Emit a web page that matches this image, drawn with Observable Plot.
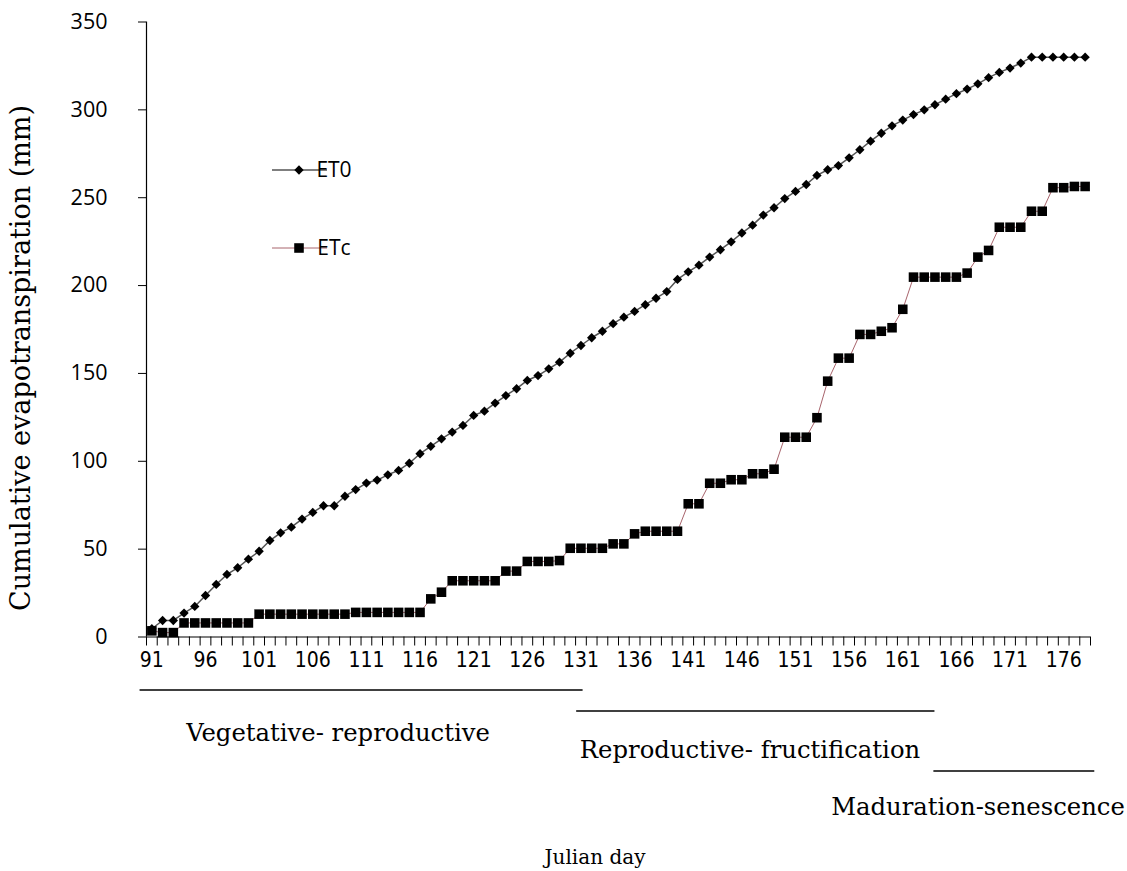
<!DOCTYPE html>
<html><head><meta charset="utf-8">
<script src="https://cdn.jsdelivr.net/npm/d3@7"></script>
<script src="https://cdn.jsdelivr.net/npm/@observablehq/plot@0.6"></script>
<style>
html,body{margin:0;padding:0;background:#fff;}
</style>
</head><body>
<div id="chart"></div>
<script>
// Julian days (categories)
const days = [91,92,93,94,95,96,97,98,99,100,101,102,103,104,105,106,107,108,109,110,
  111,112,113,114,115,116,117,118,119,120,121,122,123,124,125,126,127,128,129,130,
  131,132,133,134,135,136,137,138,139,140,141,142,143,144,145,146,147,148,149,150,
  151,152,153,154,155,156,157,158,159,160,161,162,163,164,165,166,167,168,169,170,
  171,172,173,174,175,176,177,178];

// Cumulative reference evapotranspiration ET0 (mm)
const et0 = [4.7,9.4,9.4,13.6,17.4,23.6,29.9,35.6,39.4,44.3,48.8,54.9,59.3,62.5,67.1,70.9,74.7,74.7,80.1,83.9,
  87.6,89.3,92.3,94.8,98.9,104.3,108.5,112.8,116.6,120.4,126.1,128.5,133.1,137.4,141.3,146,148.8,152.6,156.4,161.5,
  165.9,170.3,174,178.3,182,185.3,189.1,192.8,196.6,203.5,207.8,211.6,216.2,220.4,224.9,229.9,234.4,240.1,244.3,249.5,
  253.6,257.5,262.7,265.9,268.3,272.7,277.3,282.2,286.7,290.9,294.2,297.3,300,302.9,306.1,309.2,311.8,314.8,318.3,321.3,
  323.8,326.6,330,330,330,330,330,330];

// Cumulative crop evapotranspiration ETc (mm)
const etc = [3.5,2.5,2.5,8,8,8,8,8,8,8,13,13,13,13,13,13,13,13,13,14,
  14,14,14,14,14,14,21.7,25.5,32,32,32,32,32,37.5,37.5,43,43,43,43.5,50.5,
  50.5,50.5,50.5,53,53,58.7,60.2,60.2,60.2,60.2,75.8,75.8,87.5,87.5,89.5,89.5,92.9,92.9,95.5,113.7,
  113.7,113.7,124.8,145.6,158.7,158.7,172.2,172.2,174,176,186.5,204.8,204.8,204.8,204.8,204.8,207.1,216.2,220,233.2,
  233.2,233.2,242.3,242.3,255.7,255.7,256.4,256.4];

const xTickLabels = [91,96,101,106,111,116,121,126,131,136,141,146,151,156,161,166,171,176];
const yTickValues = [0,50,100,150,200,250,300,350];
const seriesNames = ["ET0","ETc"];
const phaseNames = ["Vegetative- reproductive","Reproductive- fructification","Maduration-senescence"];
const phaseStart = [89.9,130.6,163.9];
const phaseEnd = [131.2,164.0,178.9];
const yLabel = "Cumulative evapotranspiration (mm)";
const xLabel = "Julian day";

const rows = days.map((d,i)=>({day:d, et0:et0[i], etc:etc[i]}));
const bounds = days.map(d=>d-0.5).concat([days[days.length-1]+0.5]);

const W = 1127, H = 871;
const serif = "'DejaVu Serif', 'Liberation Serif', serif";
const sans = "'Open Sans', 'DejaVu Sans', sans-serif";
const narrow = "'Liberation Sans Narrow', 'DejaVu Sans Condensed', 'Roboto', sans-serif";

const chart = Plot.plot({
  width: W, height: H,
  marginTop: 21.5, marginBottom: 234.5, marginLeft: 146, marginRight: 37,
  style: {background: "#fff", fontFamily: sans, color: "#000"},
  x: {domain: [bounds[0], bounds[bounds.length-1]], axis: null},
  y: {domain: [0, 350], axis: null},
  marks: [
    Plot.axisY({ticks: yTickValues, tickSize: 8, tickPadding: 31, fontSize: 21.5, label: null, fontFamily: sans}),
    Plot.axisX({ticks: bounds, tickSize: 9, tickFormat: () => "", label: null}),
    Plot.axisX({ticks: xTickLabels, tickSize: 0, tickPadding: 15, fontSize: 21, label: null, fontFamily: narrow}),
    Plot.ruleX([bounds[0]], {stroke: "#000", strokeWidth: 1.2}),
    Plot.ruleY([0], {stroke: "#000", strokeWidth: 1.2}),
    Plot.line(rows, {x: "day", y: "et0", stroke: "#555", strokeWidth: 1.5}),
    Plot.dot(rows, {x: "day", y: "et0", symbol: "diamond2", r: 4.2, fill: "#000", stroke: "none"}),
    Plot.line(rows, {x: "day", y: "etc", stroke: "#a8646c", strokeWidth: 1}),
    Plot.dot(rows, {x: "day", y: "etc", symbol: "square", r: 5.4, fill: "#000", stroke: "none"})
  ]
});

document.getElementById("chart").appendChild(chart);

const svg = d3.select(chart);
const xs = chart.scale("x");

// Growth phase annotations below the axis
const phaseLineY = [690, 711, 771];
const phaseTextX = [338, 750, 978];
const phaseTextY = [741, 758, 815];
phaseNames.forEach((name, i) => {
  svg.append("line")
    .attr("x1", xs.apply(phaseStart[i])).attr("x2", xs.apply(phaseEnd[i]))
    .attr("y1", phaseLineY[i]).attr("y2", phaseLineY[i])
    .attr("stroke", "#000").attr("stroke-width", 1.3);
  svg.append("text")
    .attr("x", phaseTextX[i]).attr("y", phaseTextY[i])
    .attr("text-anchor", "middle")
    .attr("font-family", serif).attr("font-size", 24.3)
    .attr("fill", "#000")
    .text(name);
});

// Axis titles
svg.append("text")
  .attr("transform", "translate(30,358) rotate(-90)")
  .attr("text-anchor", "middle")
  .attr("font-family", serif).attr("font-size", 27).attr("fill", "#000")
  .text(yLabel);
svg.append("text")
  .attr("x", 595).attr("y", 864)
  .attr("text-anchor", "middle")
  .attr("font-family", serif).attr("font-size", 20).attr("fill", "#000")
  .text(xLabel);

// Legend
const legY = [170, 248];
const legStroke = ["#555", "#a8646c"];
const legSymbol = [d3.symbolDiamond2, d3.symbolSquare];
const legSize = [Math.PI*4.2*4.2, Math.PI*5.4*5.4];
seriesNames.forEach((name, i) => {
  const g = svg.append("g").attr("transform", `translate(0,${legY[i]})`);
  g.append("line").attr("x1", 272).attr("x2", 327).attr("y1", 0).attr("y2", 0)
    .attr("stroke", legStroke[i]).attr("stroke-width", i ? 1 : 1.5);
  g.append("path").attr("transform", "translate(299,0)")
    .attr("d", d3.symbol(legSymbol[i], legSize[i])()).attr("fill", "#000");
  g.append("text").attr("x", 334).attr("y", 0).attr("dy", "0.35em")
    .attr("font-family", sans).attr("font-size", 21).attr("fill", "#000")
    .text(name);
});
</script>
</body></html>
